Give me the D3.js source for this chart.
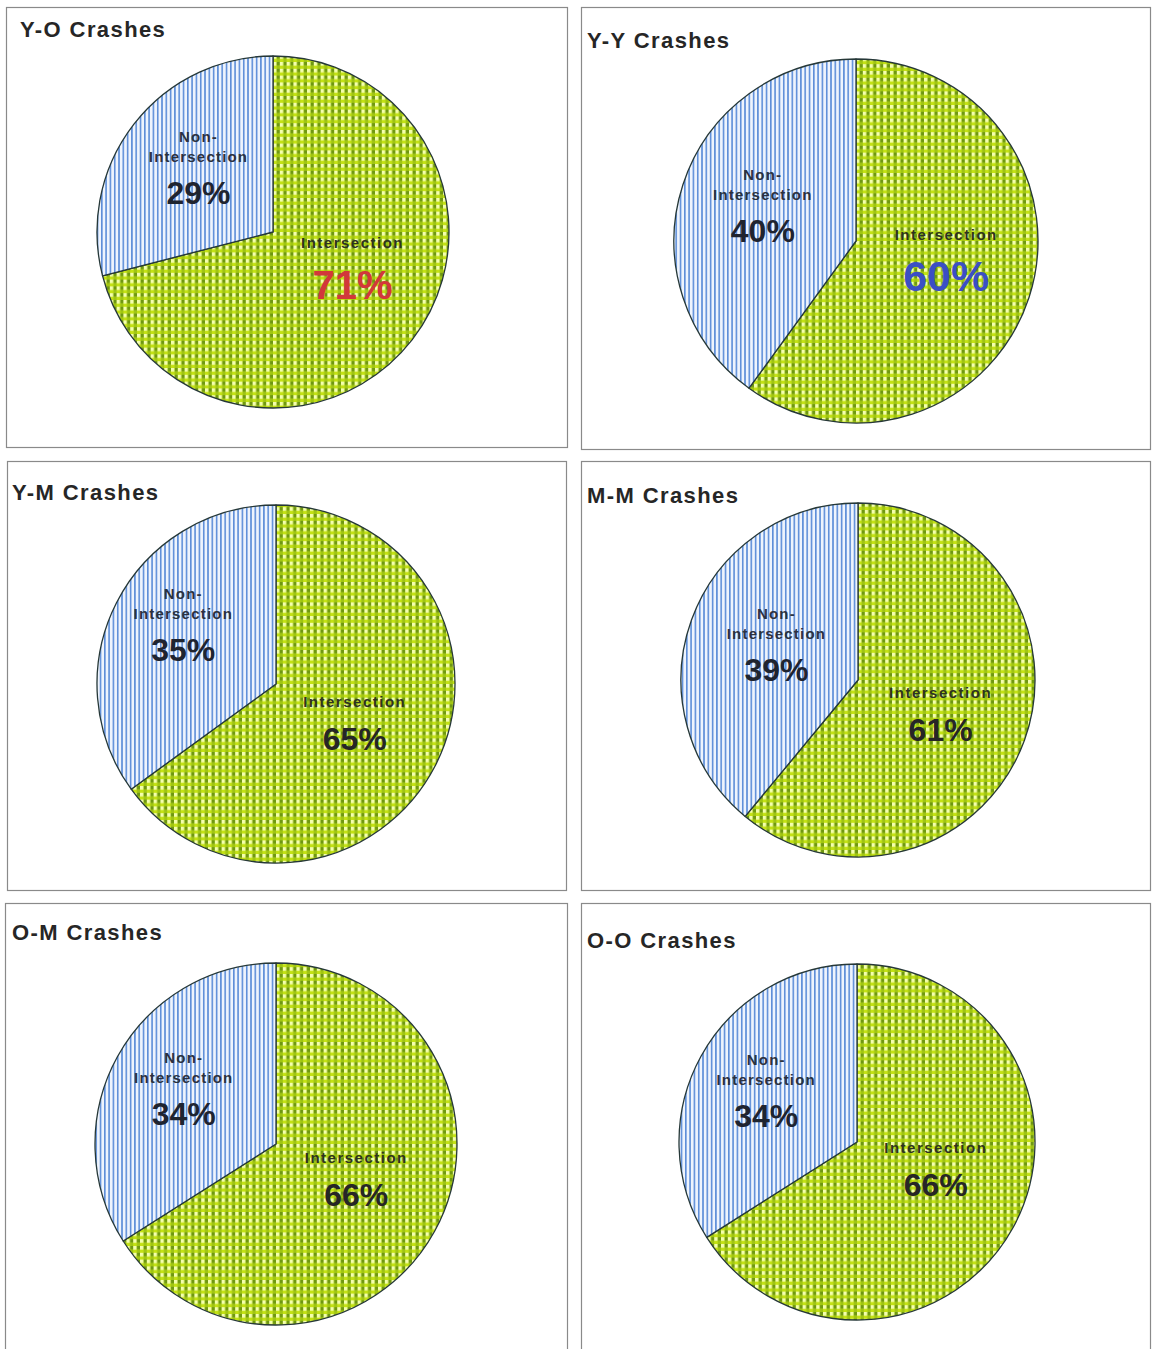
<!DOCTYPE html>
<html>
<head>
<meta charset="utf-8">
<script src="https://cdn.jsdelivr.net/npm/d3@7/dist/d3.min.js"></script>
<style>
  html, body { margin: 0; padding: 0; background: #ffffff; }
  svg { display: block; }
  text { font-family: "Liberation Sans", Arial, sans-serif; font-weight: bold; }
</style>
</head>
<body>
<svg id="chart" width="1152" height="1349"></svg>
<script>
// Crash pairings (driver age groups) and location split, in percent
const titles = ["Y-O Crashes", "Y-Y Crashes", "Y-M Crashes", "M-M Crashes", "O-M Crashes", "O-O Crashes"];
const intersection = [71, 60, 65, 61, 66, 66];
const nonIntersection = [29, 40, 35, 39, 34, 34];
const sliceNames = ["Intersection", "Non-Intersection"];

// Colour and size of the large Intersection percentage in each panel
const intersectionPctColors = ["#d2383a", "#3b4fc4", "#262626", "#262626", "#262626", "#262626"];
const intersectionPctSizes = [40, 43, 32, 32, 32, 32];

// Panel frames, pie geometry and label nudges
const panels = [
  { x: 6,   y: 7,   w: 561, h: 440, cx: 273, cy: 232,  r: 176, tx: 20,  ty: 37,  ni: [2, -8],   in: [3, -17] },
  { x: 581, y: 7,   w: 569, h: 442, cx: 856, cy: 241,  r: 182, tx: 587, ty: 48,  ni: [2, -7],   in: [-5, -6] },
  { x: 7,   y: 461, w: 559, h: 429, cx: 276, cy: 684,  r: 179, tx: 12,  ty: 500, ni: [-5, -17], in: [-9, 4] },
  { x: 581, y: 461, w: 569, h: 429, cx: 858, cy: 680,  r: 177, tx: 587, ty: 503, ni: [10, -5],  in: [-9, 11] },
  { x: 5,   y: 903, w: 562, h: 470, cx: 276, cy: 1144, r: 181, tx: 12,  ty: 940, ni: [-5, -10], in: [-7, -3] },
  { x: 581, y: 903, w: 569, h: 470, cx: 857, cy: 1142, r: 178, tx: 587, ty: 948, ni: [-5, -7],  in: [-7, -10] }
];

const svg = d3.select("#chart");
const defs = svg.append("defs");

// Green checkered fill for Intersection
const P = 6.8, H = 3.6;
const gp = defs.append("pattern")
  .attr("id", "checker").attr("patternUnits", "userSpaceOnUse")
  .attr("width", P).attr("height", P);
gp.append("rect").attr("width", P).attr("height", P).attr("fill", "#c4e214");
gp.append("rect").attr("x", 0).attr("y", 0).attr("width", H).attr("height", H).attr("fill", "#f4ffae");
gp.append("rect").attr("x", H).attr("y", 0).attr("width", P - H).attr("height", H).attr("fill", "#6f9810");
gp.append("rect").attr("x", H).attr("y", H).attr("width", P - H).attr("height", P - H).attr("fill", "#a0c414");

// Blue vertical stripes for Non-Intersection
const bp = defs.append("pattern")
  .attr("id", "stripes").attr("patternUnits", "userSpaceOnUse")
  .attr("width", 4.3).attr("height", 10);
bp.append("rect").attr("width", 4.3).attr("height", 10).attr("fill", "#eef4fd");
bp.append("rect").attr("x", 0).attr("width", 1.6).attr("height", 10).attr("fill", "#5c8dd8");

const fills = ["url(#checker)", "url(#stripes)"];

const pie = d3.pie().sort(null).startAngle(0).endAngle(2 * Math.PI);

panels.forEach((p, i) => {
  const g = svg.append("g");

  g.append("rect")
    .attr("x", p.x + 0.5).attr("y", p.y + 0.5)
    .attr("width", p.w).attr("height", p.h)
    .attr("fill", "#ffffff").attr("stroke", "#8a8a8a").attr("stroke-width", 1.2);

  g.append("text")
    .attr("x", p.tx).attr("y", p.ty)
    .attr("font-size", 22).attr("letter-spacing", 1.4)
    .attr("fill", "#262626")
    .text(titles[i]);

  const values = [intersection[i], nonIntersection[i]];
  const arcs = pie(values);
  const arc = d3.arc().innerRadius(0).outerRadius(p.r);
  const labelArc = d3.arc().innerRadius(p.r * 0.55).outerRadius(p.r * 0.55);

  const pg = g.append("g").attr("transform", `translate(${p.cx},${p.cy})`);

  pg.selectAll("path")
    .data(arcs)
    .join("path")
    .attr("d", arc)
    .attr("fill", (d, k) => fills[k])
    .attr("stroke", "#263838")
    .attr("stroke-width", 1.3)
    .attr("stroke-linejoin", "round");

  // Intersection label (anchored on the name's baseline)
  const [ix, iy] = labelArc.centroid(arcs[0]);
  const il = pg.append("g").attr("transform", `translate(${ix + p.in[0]},${iy - 26 + p.in[1]})`);
  il.append("text")
    .attr("text-anchor", "middle")
    .attr("font-size", 15).attr("letter-spacing", 1.5)
    .attr("fill", "#2e3320")
    .text(sliceNames[0]);
  il.append("text")
    .attr("text-anchor", "middle").attr("y", i < 2 ? 51 : 43)
    .attr("font-size", intersectionPctSizes[i])
    .attr("fill", intersectionPctColors[i])
    .text(intersection[i] + "%");

  // Non-Intersection label (anchored on the second line's baseline)
  const [nx, ny] = labelArc.centroid(arcs[1]);
  const nl = pg.append("g").attr("transform", `translate(${nx + p.ni[0]},${ny - 3 + p.ni[1]})`);
  nl.append("text")
    .attr("text-anchor", "middle").attr("y", -20)
    .attr("font-size", 15).attr("letter-spacing", 1.2)
    .attr("fill", "#2b3140")
    .text("Non-");
  nl.append("text")
    .attr("text-anchor", "middle")
    .attr("font-size", 15).attr("letter-spacing", 1.2)
    .attr("fill", "#2b3140")
    .text("Intersection");
  nl.append("text")
    .attr("text-anchor", "middle").attr("y", 42)
    .attr("font-size", 32)
    .attr("fill", "#1f2430")
    .text(nonIntersection[i] + "%");
});
</script>
</body>
</html>
